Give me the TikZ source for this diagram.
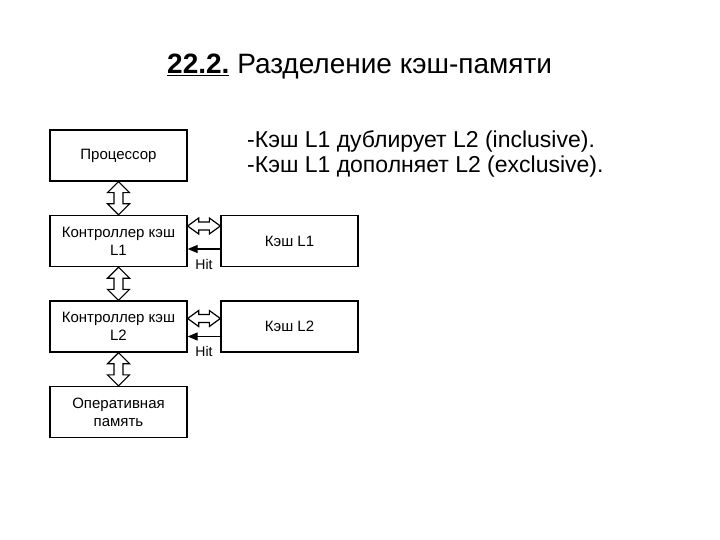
\documentclass[tikz,border=0pt]{standalone}
\usepackage{fontspec}
\setmainfont{Liberation Sans}
\usetikzlibrary{calc,arrows.meta}
\tikzset{
  blk/.style={draw, line width=1.3pt, minimum width=137pt, minimum height=51pt, inner sep=0pt,
    align=center, font=\fontsize{15}{18}\selectfont},
  hollow/.style={draw, line width=1.2pt, fill=white, line join=miter},
  hitline/.style={line width=1.3pt, -{Triangle[length=10pt,width=8pt]}},
  lbl/.style={font=\fontsize{14}{16}\selectfont, inner sep=0pt},
}
\newcommand{\vdarr}[2]{%
  \draw[hollow] (#1) -- ($(#1)+(11,11)$) -- ($(#1)+(4.5,11)$) -- ($(#2)+(4.5,-11)$) -- ($(#2)+(11,-11)$)
    -- (#2) -- ($(#2)+(-11,-11)$) -- ($(#2)+(-4.5,-11)$) -- ($(#1)+(-4.5,11)$) -- ($(#1)+(-11,11)$) -- cycle;}
\newcommand{\hdarr}[2]{%
  \draw[hollow] (#1) -- ($(#1)+(11,-8)$) -- ($(#1)+(11,-4)$) -- ($(#2)+(-11,-4)$) -- ($(#2)+(-11,-8)$)
    -- (#2) -- ($(#2)+(-11,8)$) -- ($(#2)+(-11,4)$) -- ($(#1)+(11,4)$) -- ($(#1)+(11,8)$) -- cycle;}
\begin{document}
\begin{tikzpicture}[x=1pt,y=-1pt]
\useasboundingbox (0,0) rectangle (720,540);
% title
\node[anchor=base west, inner sep=0pt, font=\fontsize{28}{32}\selectfont] (title) at (167,74)
  {\underline{\textbf{22.2.}} Разделение кэш-памяти};
\node[anchor=base west, inner sep=0pt, font=\fontsize{23}{25}\selectfont] (b1) at (247,148)
  {-Кэш L1 дублирует L2 (inclusive).};
\node[anchor=base west, inner sep=0pt, font=\fontsize{23}{25}\selectfont] (b2) at (247,173)
  {-Кэш L1 дополняет L2 (exclusive).};
% boxes
\node[blk] (cpu) at (118.5,155.5) {Процессор};
\node[blk] (c1) at (118.5,241) {Контроллер кэш\\L1};
\node[blk] (k1) at (289.5,241) {Кэш L1};
\node[blk] (c2) at (118.5,326.5) {Контроллер кэш\\L2};
\node[blk] (k2) at (289.5,326.5) {Кэш L2};
\node[blk] (mem) at (118.5,412) {Оперативная\\память};
% vertical double arrows
\vdarr{cpu.south}{c1.north}
\vdarr{c1.south}{c2.north}
\vdarr{c2.south}{mem.north}
% horizontal double arrows
\coordinate (h1a) at ($(c1.east)+(0,-15)$);
\coordinate (h1b) at ($(k1.west)+(0,-15)$);
\hdarr{h1a}{h1b}
\coordinate (h2a) at ($(c2.east)+(0,-8)$);
\coordinate (h2b) at ($(k2.west)+(0,-8)$);
\hdarr{h2a}{h2b}
% hit arrows
\draw[hitline] ($(k1.west)+(0,8)$) -- ($(c1.east)+(0,8)$);
\draw[hitline] ($(k2.west)+(0,10)$) -- ($(c2.east)+(0,10)$);
\node[lbl] (hit1) at ($(c1.east)!0.5!(k1.west)+(0,23)$) {Hit};
\node[lbl] (hit2) at ($(c2.east)!0.5!(k2.west)+(0,25)$) {Hit};
\end{tikzpicture}
\end{document}
